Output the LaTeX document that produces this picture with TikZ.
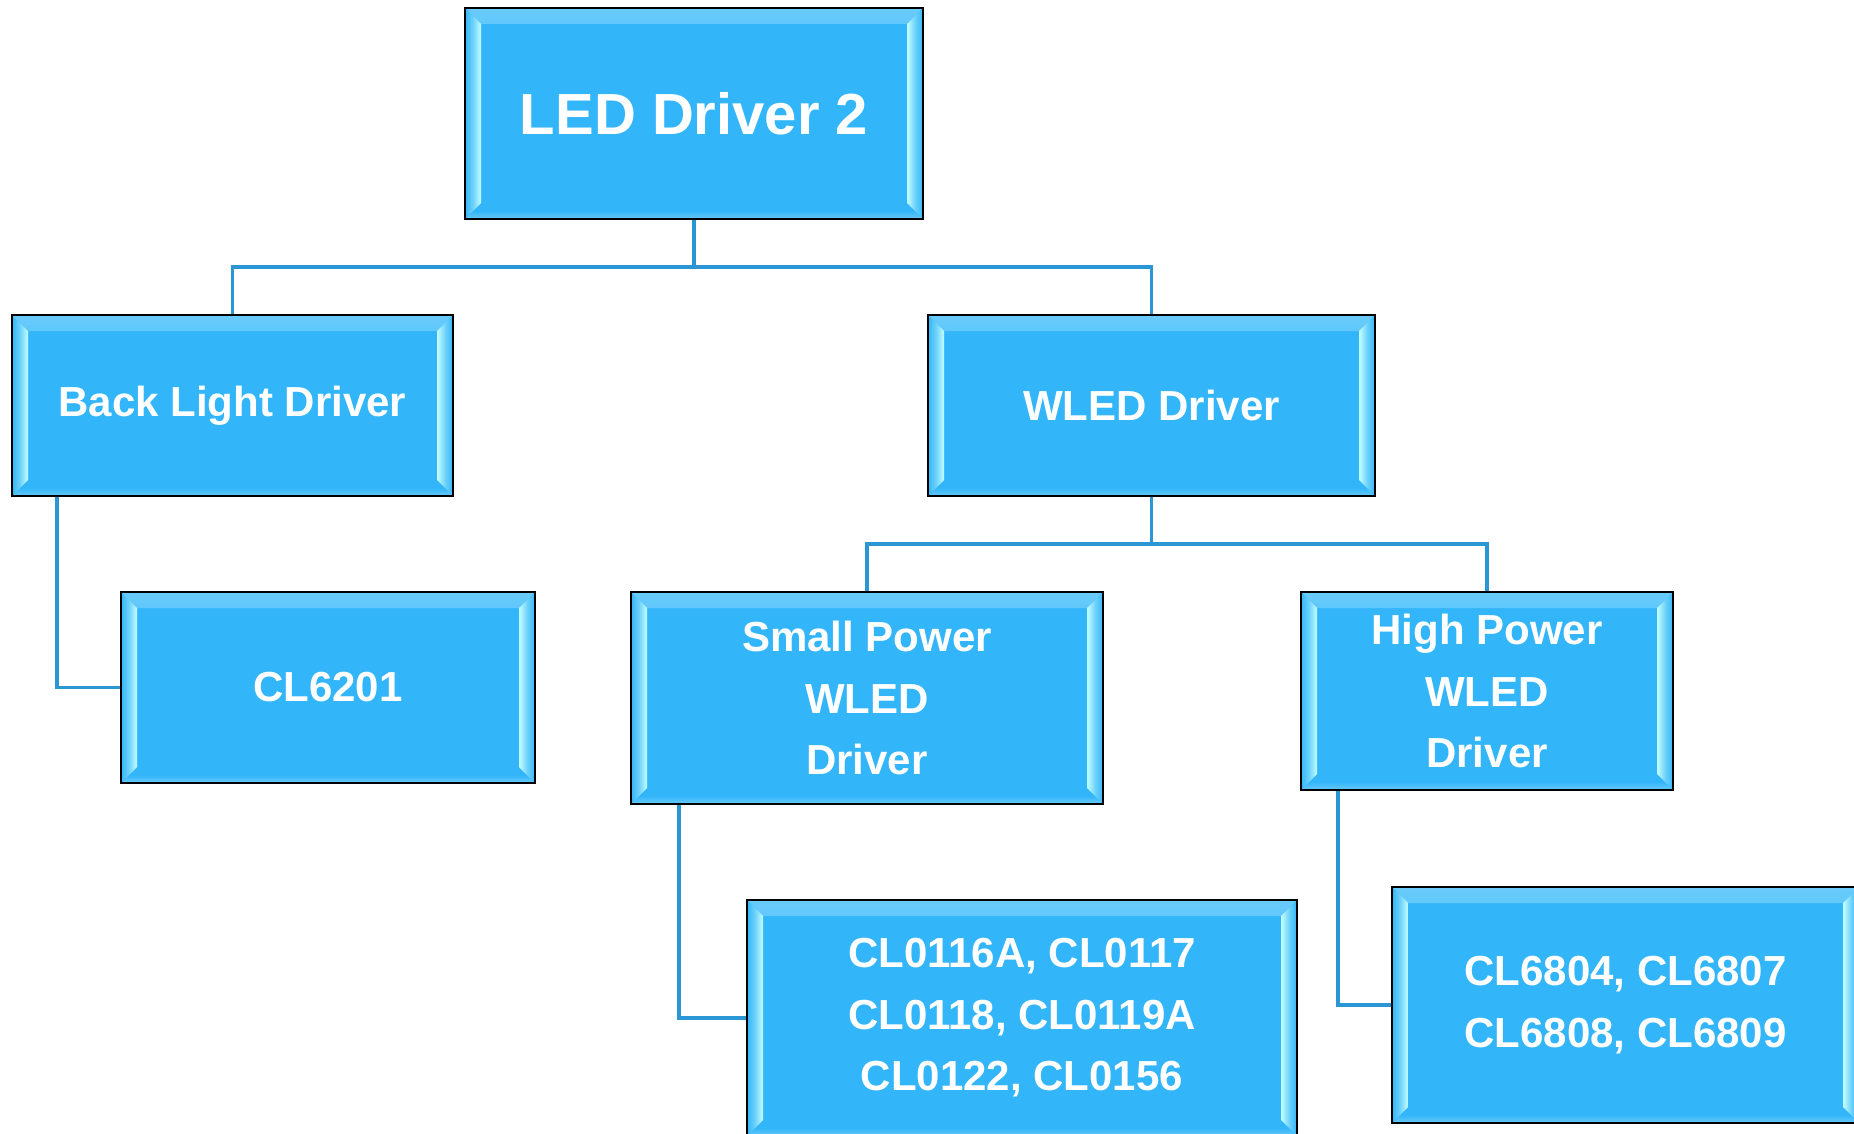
\documentclass[tikz,border=0pt]{standalone}
\usepackage{fontspec}
\setmainfont{Liberation Sans}
\usetikzlibrary{calc}
\pgfdeclarelayer{bg}
\pgfsetlayers{bg,main}
\definecolor{boxblue}{RGB}{51,181,249}
\definecolor{bandblue}{RGB}{105,203,251}
\definecolor{bevlight}{RGB}{196,255,255}
\definecolor{bevmid}{RGB}{110,210,250}
\definecolor{linkblue}{RGB}{42,150,212}
\tikzset{
  bevbox/.style={draw=black, line width=2.2pt, fill=boxblue, text=white,
    font=\bfseries\fontsize{42}{61.5}\selectfont, align=center, inner sep=0pt,
    path picture={
      \shade[top color=bandblue, bottom color=boxblue, middle color=boxblue]
        (path picture bounding box.north west) -- (path picture bounding box.north east)
        -- ([xshift=-16pt,yshift=-16pt]path picture bounding box.north east)
        -- ([xshift=16pt,yshift=-16pt]path picture bounding box.north west) -- cycle;
      \shade[top color=boxblue, bottom color=bandblue, middle color=boxblue]
        (path picture bounding box.south west) -- (path picture bounding box.south east)
        -- ([xshift=-16pt,yshift=16pt]path picture bounding box.south east)
        -- ([xshift=16pt,yshift=16pt]path picture bounding box.south west) -- cycle;
      \shade[left color=boxblue, right color=bevlight, middle color=bevmid]
        (path picture bounding box.north west)
        -- ([xshift=16pt,yshift=-16pt]path picture bounding box.north west)
        -- ([xshift=16pt,yshift=16pt]path picture bounding box.south west)
        -- (path picture bounding box.south west) -- cycle;
      \shade[left color=bevlight, right color=boxblue, middle color=bevmid]
        (path picture bounding box.north east)
        -- ([xshift=-16pt,yshift=-16pt]path picture bounding box.north east)
        -- ([xshift=-16pt,yshift=16pt]path picture bounding box.south east)
        -- (path picture bounding box.south east) -- cycle;
    }},
  link/.style={draw=linkblue, line width=3.2pt},
}
\begin{document}
\begin{tikzpicture}[x=1pt,y=-1pt]
\useasboundingbox (0,0) rectangle (1854,1134);
\node[bevbox, minimum width=458pt, minimum height=211pt,
      font=\bfseries\fontsize{58}{70}\selectfont] (root) at (694,113.5) {LED Driver 2};
\node[bevbox, minimum width=441pt, minimum height=181pt] (back) at (232.5,405.5) {Back Light Driver};
\node[bevbox, minimum width=447pt, minimum height=181pt] (wled) at (1151.5,405.5) {WLED Driver};
\node[bevbox, minimum width=414pt, minimum height=191pt] (cl6201) at (328,687.5) {CL6201};
\node[bevbox, minimum width=472pt, minimum height=212pt] (small) at (867,698) {Small Power\\WLED\\Driver};
\node[bevbox, minimum width=372pt, minimum height=198pt] (high) at (1487,691) {High Power\\WLED\\Driver};
\node[bevbox, minimum width=550pt, minimum height=236pt] (clA) at (1022,1018) {CL0116A, CL0117\\CL0118, CL0119A\\CL0122, CL0156};
\node[bevbox, minimum width=467pt, minimum height=236pt] (clB) at (1625.5,1005) {CL6804, CL6807\\CL6808, CL6809};
\coordinate (bar1) at (694,267);
\coordinate (bar2) at (1151.5,544);
\coordinate (bstem) at (57,0);
\coordinate (sstem) at (679,0);
\coordinate (hstem) at (1338,0);
\begin{pgfonlayer}{bg}
\draw[link, line width=4.5pt] (root.south) -- (bar1);
\draw[link] (back.north) |- (bar1) -| (wled.north);
\draw[link] (wled.south) -- (bar2);
\draw[link] (small.north) |- (bar2) -| (high.north);
\draw[link] (back.south west -| bstem) |- (cl6201.west);
\draw[link] (small.south west -| sstem) |- (clA.west);
\draw[link] (high.south west -| hstem) |- (clB.west);
\end{pgfonlayer}
\end{tikzpicture}
\end{document}
